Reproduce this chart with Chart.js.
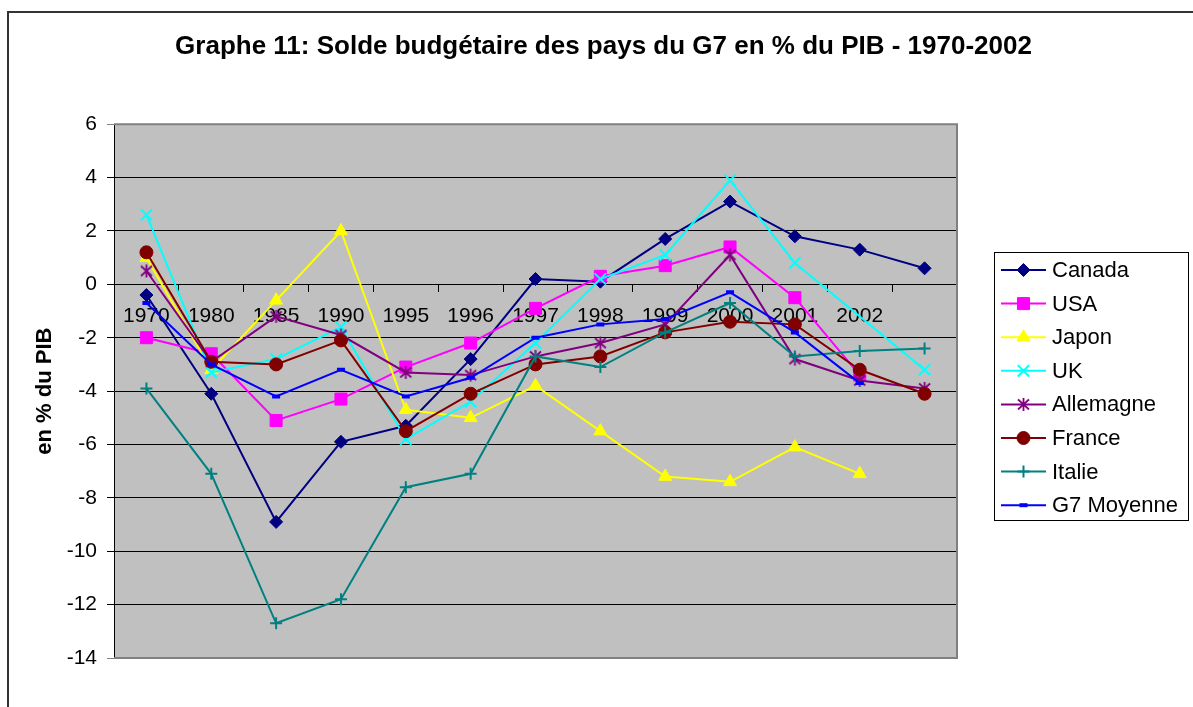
<!DOCTYPE html>
<html lang="fr">
<head>
<meta charset="utf-8">
<title>Graphe 11</title>
<script src="https://cdn.jsdelivr.net/npm/chart.js@4.4.1/dist/chart.umd.min.js"></script>
<style>
    html, body { margin: 0; padding: 0; background: #fff; overflow: hidden; }
    #cadre {
        position: absolute; left: 7px; top: 11px;
        width: 1400px; height: 900px;
        border-top: 2px solid #333; border-left: 2px solid #333;
    }
    #graphe { position: absolute; left: 0; top: 0; }
</style>
</head>
<body>
<div id="cadre"></div>
<canvas id="graphe" width="1207" height="707"></canvas>
<script>
// ── Données ──
const ANNEES = ['1970','1980','1985','1990','1995','1996','1997','1998','1999','2000','2001','2002',''];

const canada    = [-0.4, -4.1,  -8.9,  -5.9, -5.3, -2.8,  0.2,  0.1,  1.7,  3.1,  1.8,  1.3,  0.6];
const usa       = [-2.0, -2.6,  -5.1,  -4.3, -3.1, -2.2, -0.9,  0.3,  0.7,  1.4, -0.5, -3.4, null];
const japon     = [ 1.0, -3.2,  -0.6,   2.0, -4.7, -5.0, -3.8, -5.5, -7.2, -7.4, -6.1, -7.1, null];
const uk        = [ 2.6, -3.3,  -2.8,  -1.6, -5.8, -4.4, -2.2,  0.2,  1.1,  3.9,  0.8, null, -3.2];
const allemagne = [ 0.5, -2.9,  -1.2,  -1.9, -3.3, -3.4, -2.7, -2.2, -1.5,  1.1, -2.8, -3.6, -3.9];
const france    = [ 1.2, -2.9,  -3.0,  -2.1, -5.5, -4.1, -3.0, -2.7, -1.8, -1.4, -1.5, -3.2, -4.1];
const italie    = [-3.9, -7.1, -12.7, -11.8, -7.6, -7.1, -2.7, -3.1, -1.8, -0.7, -2.7, -2.5, -2.4];
const g7        = [-0.7, -3.0,  -4.2,  -3.2, -4.2, -3.5, -2.0, -1.5, -1.3, -0.3, -1.8, -3.7, null];

const Y_MIN = -14, Y_MAX = 6, Y_PAS = 2;

const POLICE = 'Arial, "Liberation Sans", sans-serif';

// marqueur étoile façon Excel (X + barre verticale)
function etoile(couleur) {
    const c = document.createElement('canvas');
    c.width = 15; c.height = 15;
    const g = c.getContext('2d');
    g.strokeStyle = couleur;
    g.lineWidth = 1.8;
    g.beginPath();
    g.moveTo(7.5, 1);  g.lineTo(7.5, 14);
    g.moveTo(2, 2.5);  g.lineTo(13, 12.5);
    g.moveTo(13, 2.5); g.lineTo(2, 12.5);
    g.stroke();
    return c;
}

function serie(label, data, couleur, style, rayon, epaisseurPoint, extra) {
    return Object.assign({
        label,
        data,
        yAxisID: 'y',
        borderColor: couleur,
        backgroundColor: couleur,
        borderWidth: 2,
        pointStyle: style,
        pointRadius: rayon,
        pointHoverRadius: rayon,
        pointBorderWidth: epaisseurPoint,
        pointBackgroundColor: couleur,
        pointBorderColor: couleur,
        tension: 0,
        fill: false,
        spanGaps: false,
    }, extra || {});
}

const datasets = [
    serie('Canada',     canada,    '#000080', 'rectRot',  6.5, 1),
    serie('USA',        usa,       '#ff00ff', 'rect',     8.5, 1),
    serie('Japon',      japon,     '#ffff00', 'triangle', 7.5, 1),
    serie('UK',         uk,        '#00ffff', 'crossRot', 8,   2, { spanGaps: true }),
    serie('Allemagne',  allemagne, '#800080', etoile('#800080'), 7, 1),
    serie('France',     france,    '#800000', 'circle',   6.5, 1),
    serie('Italie',     italie,    '#008080', 'cross',    6,   2),
    serie('G7 Moyenne', g7,        '#0000ff', 'line',     4,   4),
];
// Excel : la dernière série passe au-dessus
datasets.forEach((d, i) => { d.order = datasets.length - 1 - i; });

// ── Fond gris + bord de la zone de traçage ──
const zoneTrace = {
    id: 'zoneTrace',
    beforeDraw(chart) {
        const { ctx, chartArea: a } = chart;
        ctx.save();
        ctx.fillStyle = '#c0c0c0';
        ctx.fillRect(a.left, a.top, a.right - a.left, a.bottom - a.top);
        ctx.restore();
    },
    beforeDatasetsDraw(chart) {
        const { ctx, chartArea: a } = chart;
        ctx.save();
        ctx.strokeStyle = '#808080';
        ctx.lineWidth = 2;
        ctx.beginPath();
        ctx.moveTo(a.left, a.top);
        ctx.lineTo(a.right, a.top);
        ctx.lineTo(a.right, a.bottom);
        ctx.lineTo(a.left, a.bottom);
        ctx.stroke();
        ctx.restore();
    }
};

// ── Légende encadrée (trait + marqueur) ──
const legendeBoite = {
    id: 'legendeBoite',
    afterDraw(chart) {
        const ctx = chart.ctx;
        ctx.save();
        ctx.fillStyle = '#fff';
        ctx.fillRect(994.5, 252.5, 194, 268);
        ctx.strokeStyle = '#000';
        ctx.lineWidth = 1;
        ctx.strokeRect(994.5, 252.5, 194, 268);

        chart.data.datasets.forEach((d, i) => {
            const y = 270 + i * 33.6;
            ctx.strokeStyle = d.borderColor;
            ctx.lineWidth = d.borderWidth;
            ctx.beginPath();
            ctx.moveTo(1001, y);
            ctx.lineTo(1046, y);
            ctx.stroke();

            ctx.fillStyle = d.pointBackgroundColor;
            ctx.strokeStyle = d.pointBorderColor;
            ctx.lineWidth = d.pointBorderWidth;
            Chart.helpers.drawPoint(ctx, {
                pointStyle: d.pointStyle,
                rotation: 0,
                radius: d.pointRadius,
                borderWidth: d.pointBorderWidth,
            }, 1023.5, y);

            ctx.fillStyle = '#000';
            ctx.font = `22px ${POLICE}`;
            ctx.textAlign = 'left';
            ctx.textBaseline = 'middle';
            ctx.fillText(d.label, 1052, y + 1);
        });
        ctx.restore();
    }
};

new Chart(document.getElementById('graphe'), {
    type: 'line',
    data: { labels: ANNEES, datasets },
    plugins: [zoneTrace, legendeBoite],
    options: {
        responsive: false,
        animation: false,
        events: [],
        layout: { padding: { left: 0, top: 0, right: 0, bottom: 49 } },
        plugins: {
            legend: { display: false },
            tooltip: { enabled: false },
            title: {
                display: true,
                text: 'Graphe 11: Solde budgétaire des pays du G7 en % du PIB - 1970-2002',
                color: '#000',
                font: { family: POLICE, size: 26, weight: 'bold' },
                padding: { top: 31, bottom: 62 },
            }
        },
        scales: {
            x: {
                type: 'category',
                position: { y: 0 },
                offset: true,
                grid: {
                    offset: true,
                    drawOnChartArea: false,
                    drawTicks: true,
                    tickLength: 7,
                    color: '#000',
                },
                border: { display: true, color: '#000', width: 1 },
                ticks: {
                    color: '#000',
                    font: { family: POLICE, size: 21 },
                    padding: 12,
                    maxRotation: 0,
                    autoSkip: false,
                },
            },
            y: {
                min: Y_MIN,
                max: Y_MAX,
                afterFit: (scale) => { scale.width = 114; },
                grid: {
                    color: (c) => (c.tick && (c.tick.value === Y_MAX || c.tick.value === Y_MIN)) ? '#808080' : '#000',
                    drawTicks: true,
                    tickLength: 7,
                },
                border: { display: true, color: '#000', width: 1 },
                ticks: {
                    stepSize: Y_PAS,
                    color: '#000',
                    font: { family: POLICE, size: 21 },
                    padding: 10,
                },
                title: {
                    display: true,
                    text: 'en % du PIB',
                    color: '#000',
                    font: { family: POLICE, size: 22, weight: 'bold' },
                    padding: { top: 32, bottom: 0 },
                },
            },
            // espace réservé à droite pour la légende
            marge: {
                type: 'linear',
                position: 'right',
                afterFit: (scale) => { scale.width = 250; },
                grid: { display: false },
                border: { display: false },
                ticks: { display: false },
            }
        }
    }
});
</script>
</body>
</html>
